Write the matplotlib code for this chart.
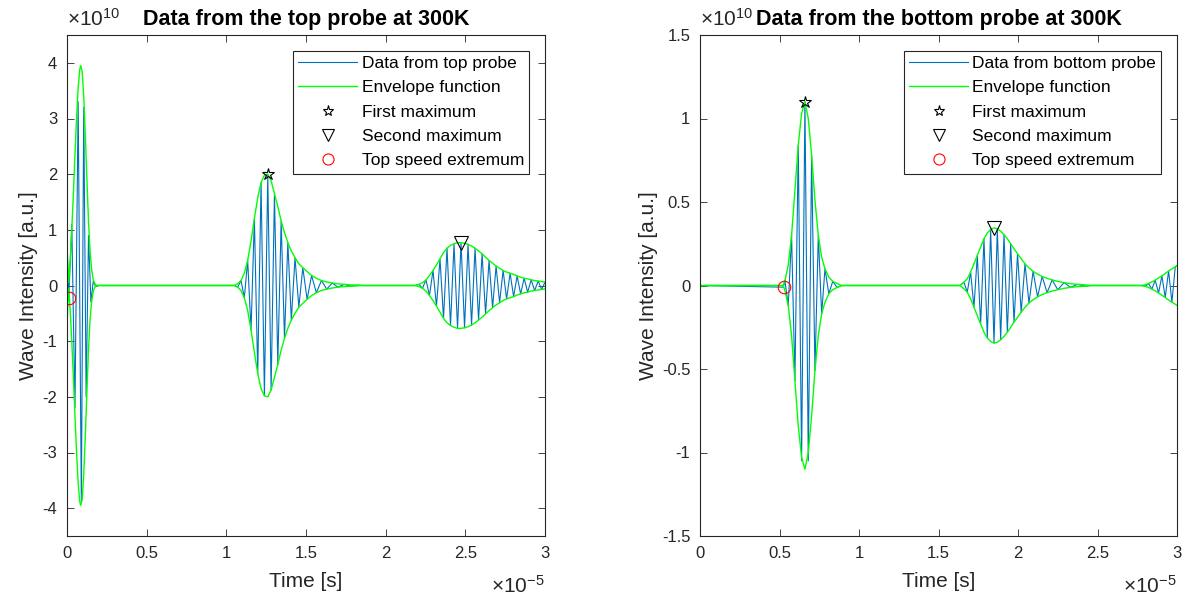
import numpy as np
import matplotlib
matplotlib.use("Agg")
import matplotlib.pyplot as plt
from matplotlib.lines import Line2D

plt.rcParams['font.family'] = ['Liberation Sans', 'DejaVu Sans']
plt.rcParams['mathtext.fontset'] = 'custom'
plt.rcParams['mathtext.rm'] = 'Liberation Sans'
plt.rcParams['mathtext.it'] = 'Liberation Sans'

# time in units of 1e-5 s, intensity in units of 1e10 a.u.
# ---- top probe ----
top_t = [0.000, 0.011, 0.030, 0.050, 0.070, 0.090, 0.105, 0.120, 0.135, 0.150, 0.165, 0.180,
         0.200, 1.050,
         1.071, 1.092, 1.113, 1.134, 1.155, 1.176, 1.197, 1.218, 1.239, 1.260,
         1.281, 1.302, 1.323, 1.344, 1.365, 1.386, 1.408, 1.431, 1.455, 1.480,
         1.507, 1.535, 1.565, 1.597, 1.630, 1.665, 1.700, 1.740, 1.780, 1.820,
         1.860, 2.185,
         2.209, 2.231, 2.253, 2.275, 2.297, 2.319, 2.341, 2.363, 2.385, 2.407,
         2.429, 2.451, 2.473, 2.495, 2.517, 2.539, 2.561, 2.583, 2.605, 2.627,
         2.649, 2.671, 2.693, 2.715, 2.737, 2.759, 2.781, 2.803, 2.825, 2.847,
         2.869, 2.891, 2.913, 2.935, 2.957, 2.979, 3.000]
top_v = [0.75, -0.23, 1.10, -2.20, 3.30, -3.90, 3.20, -2.00, 0.90, -0.30, 0.08, -0.02,
         0.0, 0.0,
         -0.03, 0.09, -0.22, 0.45, -0.80, 1.20, -1.58, 1.85, -1.98, 2.00,
         -1.88, 1.65, -1.42, 1.16, -0.95, 0.77, -0.62, 0.50, -0.39, 0.32,
         -0.25, 0.18, -0.13, 0.09, -0.065, 0.045, -0.03, 0.02, -0.012, 0.006,
         0.0, 0.0,
         0.02, -0.05, 0.10, -0.18, 0.27, -0.37, 0.48, -0.59, 0.67, -0.72,
         0.75, -0.77, 0.77, -0.76, 0.74, -0.71, 0.67, -0.62, 0.57, -0.51,
         0.45, -0.40, 0.35, -0.31, 0.27, -0.24, 0.22, -0.20, 0.17, -0.15,
         0.13, -0.12, 0.10, -0.09, 0.08, -0.07, 0.06]
top_env_t = [0.000, 0.005, 0.011, 0.020, 0.030, 0.040, 0.050, 0.060, 0.070, 0.080, 0.086,
             0.095, 0.105, 0.115, 0.125, 0.135, 0.145, 0.155, 0.165, 0.175, 0.185,
             1.050, 1.071, 1.092, 1.113, 1.134, 1.155, 1.176, 1.197, 1.218, 1.239, 1.260,
             1.281, 1.302, 1.323, 1.344, 1.365, 1.386, 1.408, 1.431, 1.455, 1.480,
             1.507, 1.535, 1.565, 1.597, 1.630, 1.665, 1.700, 1.740, 1.780, 1.820, 1.860,
             2.185, 2.209, 2.231, 2.253, 2.275, 2.297, 2.319, 2.341, 2.363, 2.385, 2.407,
             2.429, 2.451, 2.473, 2.495, 2.517, 2.539, 2.561, 2.583, 2.605, 2.627,
             2.649, 2.671, 2.693, 2.715, 2.737, 2.759, 2.781, 2.803, 2.825, 2.847,
             2.869, 2.891, 2.913, 2.935, 2.957, 2.979, 3.000]
top_env_v = [0.72, 0.35, 0.05, 0.45, 1.00, 1.65, 2.35, 3.00, 3.55, 3.88, 3.95,
             3.85, 3.40, 2.70, 1.90, 1.15, 0.60, 0.28, 0.10, 0.03, 0.0,
             0.0, 0.03, 0.09, 0.22, 0.45, 0.80, 1.20, 1.58, 1.85, 1.98, 2.00,
             1.88, 1.65, 1.42, 1.16, 0.95, 0.77, 0.62, 0.50, 0.39, 0.32,
             0.25, 0.18, 0.13, 0.09, 0.065, 0.045, 0.03, 0.02, 0.012, 0.006, 0.0,
             0.0, 0.02, 0.05, 0.10, 0.18, 0.27, 0.37, 0.48, 0.59, 0.67, 0.72,
             0.75, 0.77, 0.77, 0.76, 0.74, 0.71, 0.67, 0.62, 0.57, 0.51,
             0.45, 0.40, 0.35, 0.31, 0.27, 0.24, 0.22, 0.20, 0.17, 0.15,
             0.13, 0.12, 0.10, 0.09, 0.08, 0.07, 0.06]
top_first = (1.260, 2.00)
top_second = (2.473, 0.76)
top_speed = (0.011, -0.23)

# ---- bottom probe ----
bot_t = [0.000, 0.524,
         0.534, 0.555, 0.576, 0.597, 0.618, 0.639, 0.660, 0.681, 0.702, 0.723,
         0.744, 0.765, 0.786, 0.810, 0.835, 0.862, 0.890, 1.635,
         1.660, 1.681, 1.702, 1.723, 1.744, 1.765, 1.786, 1.807, 1.828, 1.849,
         1.870, 1.891, 1.912, 1.933, 1.954, 1.975, 1.997, 2.020, 2.044, 2.069,
         2.095, 2.123, 2.152, 2.183, 2.215, 2.250, 2.290, 2.330, 2.375, 2.420,
         2.460, 2.780,
         2.800, 2.821, 2.842, 2.863, 2.884, 2.905, 2.926, 2.947, 2.968, 2.989, 3.000]
bot_v = [0.0, -0.01,
         0.03, -0.12, 0.30, -0.57, 0.84, -1.05, 1.10, -1.05, 0.78, -0.51,
         0.30, -0.17, 0.10, -0.05, 0.025, -0.012, 0.0, 0.0,
         0.02, -0.04, 0.08, -0.13, 0.18, -0.23, 0.28, -0.315, 0.335, -0.345,
         0.34, -0.325, 0.305, -0.28, 0.25, -0.22, 0.19, -0.16, 0.13, -0.105,
         0.085, -0.068, 0.054, -0.043, 0.033, -0.025, 0.017, -0.011, 0.007, -0.004,
         0.0, 0.0,
         -0.005, 0.012, -0.022, 0.032, -0.045, 0.058, -0.072, 0.087, -0.100, 0.112, 0.12]
bot_env_t = [0.000, 0.524, 0.534, 0.555, 0.576, 0.597, 0.618, 0.639, 0.660, 0.681, 0.702,
             0.723, 0.744, 0.765, 0.786, 0.810, 0.835, 0.862, 0.890, 1.635,
             1.660, 1.681, 1.702, 1.723, 1.744, 1.765, 1.786, 1.807, 1.828, 1.849,
             1.870, 1.891, 1.912, 1.933, 1.954, 1.975, 1.997, 2.020, 2.044, 2.069,
             2.095, 2.123, 2.152, 2.183, 2.215, 2.250, 2.290, 2.330, 2.375, 2.420,
             2.460, 2.780,
             2.800, 2.821, 2.842, 2.863, 2.884, 2.905, 2.926, 2.947, 2.968, 2.989, 3.000]
bot_env_v = [0.0, 0.0, 0.03, 0.12, 0.30, 0.57, 0.84, 1.03, 1.10, 1.00, 0.78,
             0.51, 0.30, 0.17, 0.10, 0.05, 0.025, 0.012, 0.0, 0.0,
             0.02, 0.04, 0.08, 0.13, 0.18, 0.23, 0.28, 0.315, 0.335, 0.345,
             0.34, 0.325, 0.305, 0.28, 0.25, 0.22, 0.19, 0.16, 0.13, 0.105,
             0.085, 0.068, 0.054, 0.043, 0.033, 0.025, 0.017, 0.011, 0.007, 0.004,
             0.0, 0.0,
             0.005, 0.012, 0.022, 0.032, 0.045, 0.058, 0.072, 0.087, 0.100, 0.112, 0.12]
bot_first = (0.660, 1.10)
bot_second = (1.849, 0.345)
bot_speed = (0.528, -0.01)

x_ticks = [0, 0.5, 1, 1.5, 2, 2.5, 3]
x_ticklabels = ['0', '0.5', '1', '1.5', '2', '2.5', '3']
top_yticks = [-4, -3, -2, -1, 0, 1, 2, 3, 4]
top_yticklabels = ['-4', '-3', '-2', '-1', '0', '1', '2', '3', '4']
bot_yticks = [-1.5, -1, -0.5, 0, 0.5, 1, 1.5]
bot_yticklabels = ['-1.5', '-1', '-0.5', '0', '0.5', '1', '1.5']

blue = '#0072BD'
green = '#00FF00'
dark = '#262626'

fig = plt.figure(figsize=(11.92, 6.0), dpi=100)
ax1 = fig.add_axes([67 / 1192, 64 / 600, 478 / 1192, 501 / 600])
ax2 = fig.add_axes([700 / 1192, 64 / 600, 477 / 1192, 501 / 600])


def draw(ax, t, v, et, ev, first, second, speed, probe, ylim, yticks, yticklabels, title):
    t = np.array(t)
    v = np.array(v)
    et = np.array(et)
    ev = np.array(ev)
    ax.plot(t, v, color=blue, lw=0.8)
    ax.plot(et, ev, color=green, lw=1.0)
    ax.plot(et, -ev, color=green, lw=1.0)
    ax.plot(first[0], first[1], marker='*', ms=9, mfc='none', mec='black', mew=0.8, ls='none')
    ax.plot(second[0], second[1], marker='v', ms=10, mfc='none', mec='black', mew=0.8, ls='none')
    ax.plot(speed[0], speed[1], marker='o', ms=9, mfc='none', mec='red', mew=0.8, ls='none')

    ax.set_xlim(0, 3)
    ax.set_ylim(*ylim)
    ax.set_xticks(x_ticks)
    ax.set_xticklabels(x_ticklabels)
    ax.set_yticks(yticks)
    ax.set_yticklabels(yticklabels)
    ax.tick_params(direction='in', top=True, right=True, length=5, width=0.6,
                   labelsize=12, colors=dark, pad=7)
    for s in ax.spines.values():
        s.set_color(dark)
        s.set_linewidth(0.8)
    ax.set_xlabel('Time [s]', fontsize=15, color=dark, labelpad=8)
    ax.set_ylabel('Wave Intensity [a.u.]', fontsize=15, color=dark, labelpad=3)
    ax.set_title(title, fontsize=15.5, fontweight='bold', pad=7)
    ax.text(1.0, -0.114, r'$\times10^{-5}$', transform=ax.transAxes, ha='right',
            va='baseline', fontsize=15, color=dark)
    ax.text(0.0, 1.01, r'$\times10^{10}$', transform=ax.transAxes, ha='left', va='bottom',
            fontsize=15, color=dark)

    handles = [
        Line2D([], [], color=blue, lw=0.8),
        Line2D([], [], color=green, lw=1.0),
        Line2D([], [], marker='*', ms=8, mfc='none', mec='black', mew=0.8, ls='none'),
        Line2D([], [], marker='v', ms=9, mfc='none', mec='black', mew=0.8, ls='none'),
        Line2D([], [], marker='o', ms=8, mfc='none', mec='red', mew=0.8, ls='none'),
    ]
    labels = ['Data from %s probe' % probe, 'Envelope function', 'First maximum',
              'Second maximum', 'Top speed extremum']
    leg = ax.legend(handles, labels, loc='upper right', fontsize=12.5, handlelength=3.4,
                    handletextpad=0.25, labelspacing=0.53, borderaxespad=0.9,
                    borderpad=0.3, fancybox=False, edgecolor=dark, framealpha=1)
    leg.get_frame().set_linewidth(0.8)


draw(ax1, top_t, top_v, top_env_t, top_env_v, top_first, top_second, top_speed, 'top',
     (-4.5, 4.5), top_yticks, top_yticklabels, 'Data from the top probe at 300K')
draw(ax2, bot_t, bot_v, bot_env_t, bot_env_v, bot_first, bot_second, bot_speed, 'bottom',
     (-1.5, 1.5), bot_yticks, bot_yticklabels, 'Data from the bottom probe at 300K')

fig.savefig('out.png', dpi=100)
